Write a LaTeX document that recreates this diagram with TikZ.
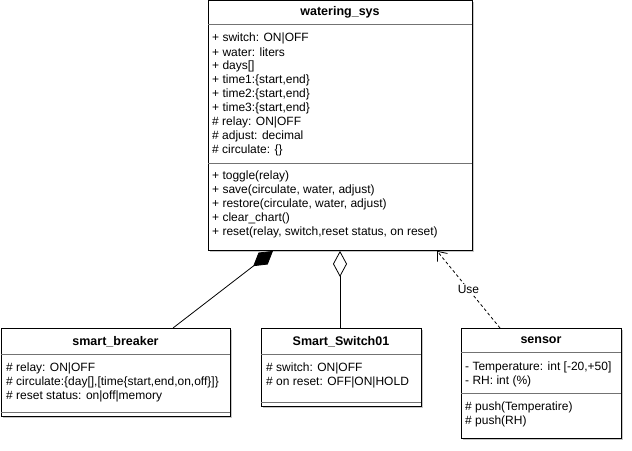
\documentclass[tikz,border=0pt]{standalone}
\usepackage{fontspec}
\setmainfont{Liberation Sans}
\usetikzlibrary{arrows.meta,calc,shadows}
\begin{document}
\begin{tikzpicture}[x=1pt,y=-1pt,
  cls/.style={draw=black, fill=white, line width=0.9pt, rectangle, anchor=north west, inner sep=0pt,
    drop shadow={shadow xshift=1.5pt, shadow yshift=-1.5pt, opacity=0.22, fill=black}},
  sep/.style={draw=black!55, line width=0.7pt},
  ttl/.style={font=\fontsize{12.5}{14}\selectfont\bfseries, inner sep=0pt},
  txt/.style={font=\fontsize{12}{14}\selectfont, anchor=west, inner sep=0pt},
  conn/.style={line width=0.8pt, draw=black}
]
\useasboundingbox (0,0) rectangle (632,450);

% ---------- watering_sys ----------
\node[cls, minimum width=264pt, minimum height=250pt] (ws) at (208,0) {};
\node[ttl] (wst) at (340,12) {watering\_sys};
\draw[sep] (208,24) -- (472,24);
\draw[sep] (208,163) -- (472,163);
\foreach \t [count=\i] in {{+ switch: ON|OFF},{+ water: liters},{+ days[]},
  {+ time1:\{start,end\}},{+ time2:\{start,end\}},{+ time3:\{start,end\}},
  {\# relay: ON|OFF},{\# adjust: decimal},{\# circulate: \{\}}}
  \node[txt] (wsa\i) at (212,{38+14*(\i-1)}) {\t};
\foreach \t [count=\i] in {{+ toggle(relay)},{+ save(circulate, water, adjust)},
  {+ restore(circulate, water, adjust)},{+ clear\_chart()},
  {+ reset(relay, switch,reset status, on reset)}}
  \node[txt] (wsm\i) at (212,{176+14*(\i-1)}) {\t};

% ---------- smart_breaker ----------
\node[cls, minimum width=229pt, minimum height=88pt] (sb) at (1,328) {};
\node[ttl] (sbt) at (115.5,342) {smart\_breaker};
\draw[sep] (1,354) -- (230,354);
\draw[sep] (1,412) -- (230,412);
\foreach \t [count=\i] in {{\# relay: ON|OFF},
  {\# circulate:\{day[],[time\{start,end,on,off\}]\}},
  {\# reset status: on|off|memory}}
  \node[txt] (sba\i) at (6,{368+14*(\i-1)}) {\t};

% ---------- Smart_Switch01 ----------
\node[cls, minimum width=160pt, minimum height=78pt] (sw) at (261,328) {};
\node[ttl] (swt) at (341,342) {Smart\_Switch01};
\draw[sep] (261,354) -- (421,354);
\draw[sep] (261,402) -- (421,402);
\foreach \t [count=\i] in {{\# switch: ON|OFF},{\# on reset: OFF|ON|HOLD}}
  \node[txt] (swa\i) at (266,{368+14*(\i-1)}) {\t};

% ---------- sensor ----------
\node[cls, minimum width=160pt, minimum height=110pt] (se) at (461,328) {};
\node[ttl] (set) at (541,340) {sensor};
\draw[sep] (461,352) -- (621,352);
\draw[sep] (461,393) -- (621,393);
\foreach \t [count=\i] in {{- Temperature: int [-20,+50]},{- RH: int (\%)}}
  \node[txt] (sea\i) at (465,{367+14*(\i-1)}) {\t};
\foreach \t [count=\i] in {{\# push(Temperatire)},{\# push(RH)}}
  \node[txt] (sem\i) at (465,{407+14*(\i-1)}) {\t};

% ---------- connectors ----------
\coordinate (c1s) at ($(sb.north west)+(172,0)$);
\coordinate (c1e) at ($(ws.south west)+(65,0)$);
\draw[conn, -{Diamond[length=25pt, width=15pt, fill=black]}] (c1s) -- (c1e);

\coordinate (c2s) at ($(sw.north west)+(79,0)$);
\coordinate (c2e) at ($(ws.south west)+(132,0)$);
\draw[conn, -{Diamond[open, length=26pt, width=14pt, fill=white]}] (c2s) -- (c2e);

\coordinate (c3s) at ($(se.north west)+(39,0)$);
\coordinate (c3e) at ($(ws.south west)+(229,0)$);
\draw[conn, dash pattern=on 3pt off 2.5pt, -{Straight Barb[length=8pt, width=13pt]}] (c3s) -- (c3e)
  node[pos=0.5, fill=white, inner sep=1pt, font=\fontsize{12}{14}\selectfont] (use) {Use};
\end{tikzpicture}
\end{document}
